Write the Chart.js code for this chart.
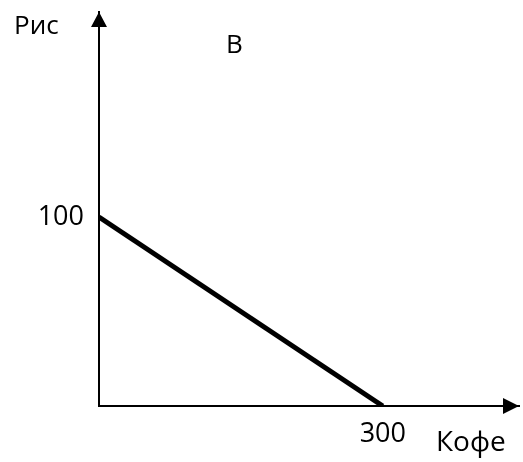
<!DOCTYPE html>
<html>
<head>
<meta charset="utf-8">
<script src="https://cdn.jsdelivr.net/npm/chart.js@4"></script>
<style>
  body { margin: 0; background: #fff; }
  #chart { display: block; }
</style>
</head>
<body>
<canvas id="chart" width="523" height="462"></canvas>
<script>
// budget line: rice vs coffee
let coffee = [0, 300];
let rice = [100, 0];
let xTicks = [300];
let yTicks = [100];
let xTitle = "Кофе";
let yTitle = "Рис";
let lineLabel = "В";

let fontFamily = "'Open Sans', sans-serif";

// arrows on the axes + the text labels
let axisExtras = {
    id: "axisExtras",
    afterDraw(chart) {
        let ctx = chart.ctx;
        let a = chart.chartArea;
        ctx.save();
        ctx.fillStyle = "#000";
        // y arrow
        ctx.beginPath();
        ctx.moveTo(a.left, a.top);
        ctx.lineTo(a.left - 8, a.top + 15);
        ctx.lineTo(a.left + 8, a.top + 15);
        ctx.closePath();
        ctx.fill();
        // x arrow
        ctx.beginPath();
        ctx.moveTo(a.right, a.bottom);
        ctx.lineTo(a.right - 16, a.bottom - 8);
        ctx.lineTo(a.right - 16, a.bottom + 8);
        ctx.closePath();
        ctx.fill();

        ctx.textBaseline = "middle";
        ctx.textAlign = "left";
        ctx.font = "26px " + fontFamily;
        ctx.fillText(yTitle, 14, 27);
        ctx.fillText(lineLabel, 226, 46);
        ctx.font = "28px " + fontFamily;
        ctx.fillText(xTitle, 436, 443);
        ctx.restore();
    }
};

let data = {
    datasets: [
        {
            data: coffee.map((c, i) => ({ x: c, y: rice[i] })),
            showLine: true,
            borderColor: "#000",
            borderWidth: 5,
            pointRadius: 0,
            fill: false,
        },
    ],
};

let config = {
    type: "scatter",
    data: data,
    options: {
        responsive: false,
        animation: false,
        layout: { padding: { top: 12, right: 4, left: 0, bottom: 0 } },
        plugins: { legend: { display: false }, tooltip: { enabled: false } },
        scales: {
            x: {
                type: "linear",
                min: 0,
                max: 444,
                afterBuildTicks: (s) => { s.ticks = xTicks.map((v) => ({ value: v })); },
                afterFit: (s) => { s.height = 56; s.paddingLeft = 0; s.paddingRight = 0; },
                grid: { display: false, drawTicks: false },
                border: { display: true, color: "#000", width: 2 },
                ticks: { color: "#000", padding: 12, font: { size: 27, family: fontFamily }, maxRotation: 0 },
            },
            y: {
                type: "linear",
                min: 0,
                max: 208.5,
                afterBuildTicks: (s) => { s.ticks = yTicks.map((v) => ({ value: v })); },
                afterFit: (s) => { s.width = 99; s.paddingTop = 0; s.paddingBottom = 0; },
                grid: { display: false, drawTicks: false },
                border: { display: true, color: "#000", width: 2 },
                ticks: { color: "#000", padding: 15, font: { size: 27, family: fontFamily } },
            },
        },
    },
    plugins: [axisExtras],
};

let myChart = new Chart(document.getElementById("chart"), config);
</script>
</body>
</html>
